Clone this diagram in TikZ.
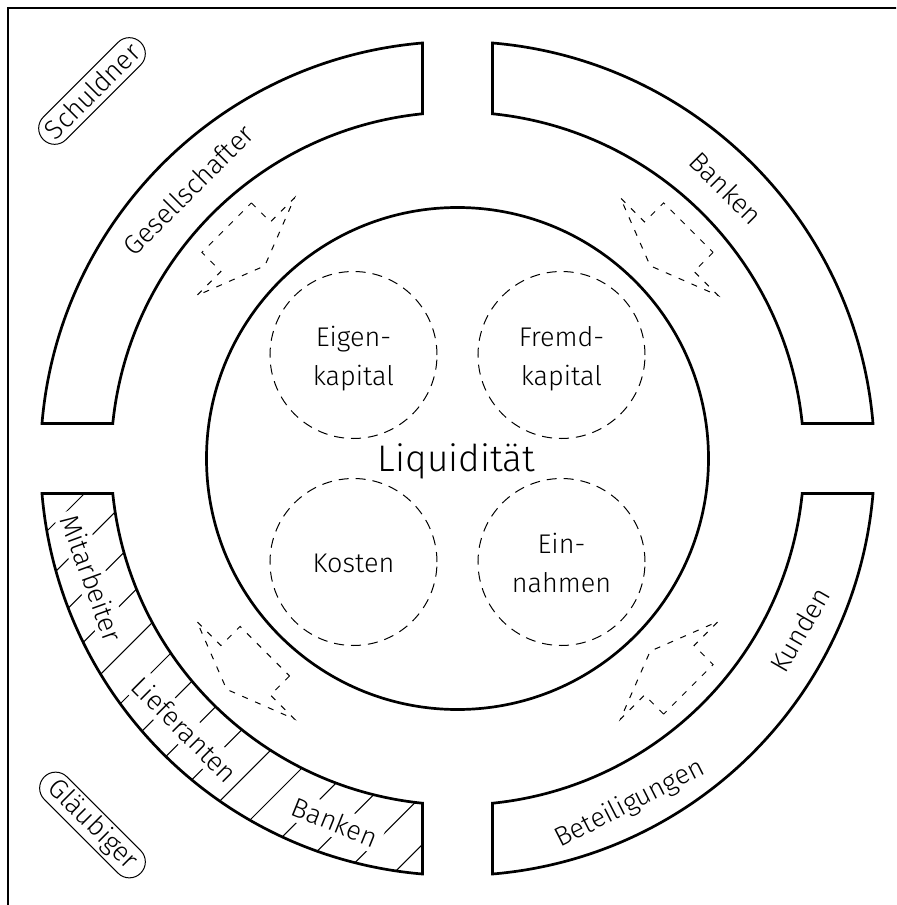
\documentclass[tikz,border=0pt]{standalone}
\usepackage{fontspec}
\setmainfont{Fira Sans Light}
\usetikzlibrary{shapes.misc}
\begin{document}
\begin{tikzpicture}[x=0.5pt,y=0.5pt,
  thickline/.style={line width=1.35pt},
  thinline/.style={line width=0.5pt},
  dcircle/.style={line width=0.5pt, dash pattern=on 5pt off 3.5pt},
  darrow/.style={line width=0.5pt, dash pattern=on 3pt off 4pt},
  lbl/.style={font=\fontsize{13.5}{16}\selectfont, inner sep=0pt},
  ringlbl/.style={font=\fontsize{13.5}{16}\selectfont, inner sep=1.5pt},
  hatchlbl/.style={ringlbl, fill=white, inner sep=2.5pt},
  pill/.style={draw, thinline, rounded rectangle, minimum height=16pt, minimum width=68pt, inner xsep=2pt, inner ysep=0pt, font=\fontsize{13.5}{16}\selectfont}
]
\useasboundingbox (-457.5,-446.5) rectangle (438.5,458.5);
\clip (-457.5,-446.5) rectangle (438.5,458.5);
\fill[white] (-457.5,-446.5) rectangle (438.5,458.5);
\draw[thickline] (-449.5,-450.5) rectangle (449.5,450.5);

\def\Ro{417}
\def\Ri{346.5}
\def\ao{4.815}
\def\ai{5.797}
\newcommand\ringseg[1]{(#1-\ao:\Ro) arc[start angle=#1-\ao, end angle=#1-90+\ao, radius=\Ro] -- (#1-90+\ai:\Ri) arc[start angle=#1-90+\ai, end angle=#1-\ai, radius=\Ri] -- cycle}
\newcommand\darr[2]{\begin{scope}[shift={(#1:299.5)}, rotate=#2]
  \draw[darrow] (-27,35) -- (0,35) -- (0,69) -- (27,0) -- (0,-69) -- (0,-35) -- (-27,-35) -- cycle;
  \end{scope}}

% hatching of the creditor segment
\begin{scope}
  \clip \ringseg{-90};
  \foreach \k in {0,...,14}
    \draw[thinline] (-470,{-132-49.2*\k}) -- (0,{338-49.2*\k});
\end{scope}

% ring labels
\node[ringlbl, rotate=45] (ges) at (-269.5,268.5) {Gesellschafter};
\node[ringlbl, rotate=-45] (bank1) at (268.5,270.5) {Banken};
\node[ringlbl, rotate=60] (kund) at (342.5,-171.5) {Kunden};
\node[ringlbl, rotate=27] (beteil) at (172.5,-345.5) {Beteiligungen};
\node[hatchlbl, rotate=-70] (mitarb) at (-365.5,-119.5) {Mitarbeiter};
\node[hatchlbl, rotate=-45] (liefer) at (-272.5,-271) {Lieferanten};
\node[hatchlbl, rotate=-22] (bank2) at (-122.5,-363.5) {Banken};

% ring segments
\draw[thickline] \ringseg{180};
\draw[thickline] \ringseg{90};
\draw[thickline] \ringseg{0};
\draw[thickline] \ringseg{-90};

% pills
\node[pill, rotate=45] (schuld) at (-365.5,367.5) {Schuldner};
\node[pill, rotate=-45] (glaeub) at (-365,-366.5) {Gläubiger};

% centre circle
\draw[thickline] (0,0) circle[radius=251];
\node[font=\fontsize{18.5}{20}\selectfont, inner sep=0pt, anchor=base] (liq) at (-1,-13) {Liquidität};

% dashed circles
\draw[dcircle] (-104,103.5) circle[radius=83.5];
\draw[dcircle] (104,103.5) circle[radius=83.5];
\draw[dcircle] (-104,-103.5) circle[radius=83.5];
\draw[dcircle] (104,-103.5) circle[radius=83.5];

\node[lbl, anchor=base] (eig1) at (-104,112.5) {Eigen-};
\node[lbl, anchor=base] (eig2) at (-104,73.5) {kapital};
\node[lbl, anchor=base] (fre1) at (104,112.5) {Fremd-};
\node[lbl, anchor=base] (fre2) at (104,73.5) {kapital};
\node[lbl, anchor=base] (kost) at (-104,-113.5) {Kosten};
\node[lbl, anchor=base] (ein1) at (104,-94.5) {Ein-};
\node[lbl, anchor=base] (ein2) at (104,-133.5) {nahmen};

% dashed block arrows
\darr{135}{315}
\darr{45}{225}
\darr{-45}{135}
\darr{225}{225}
\end{tikzpicture}
\end{document}
